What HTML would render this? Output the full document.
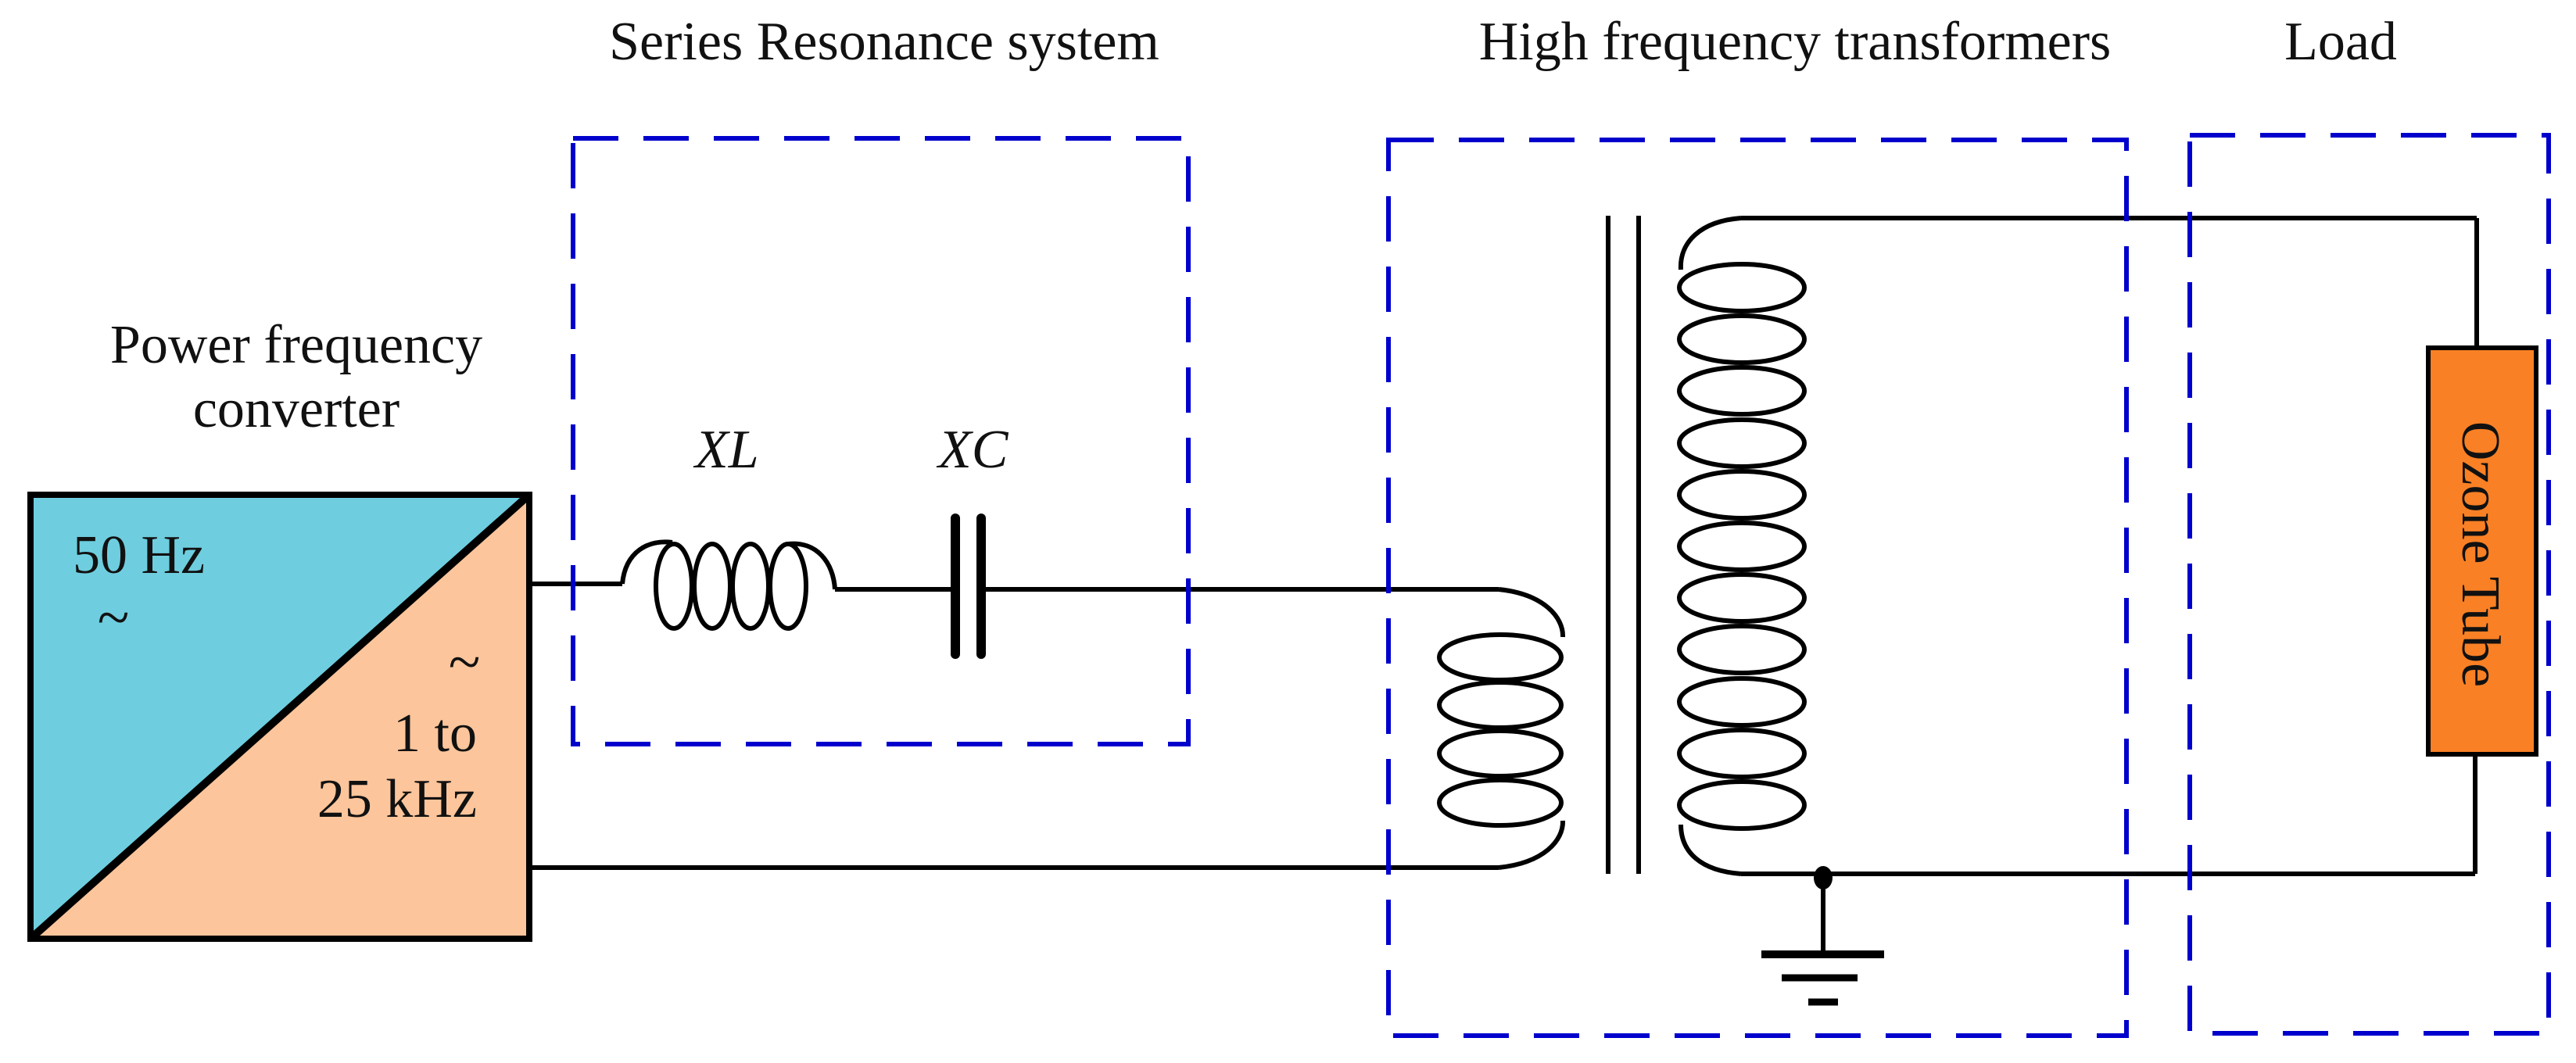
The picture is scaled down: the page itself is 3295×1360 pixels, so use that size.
<!DOCTYPE html>
<html><head><meta charset="utf-8"><style>
html,body{margin:0;padding:0;background:#fff;}
svg{display:block;}
text{font-family:"Liberation Serif",serif;fill:#111;}
</style></head><body>
<svg width="3295" height="1360" viewBox="0 0 3295 1360" xmlns="http://www.w3.org/2000/svg">
<text x="1131" y="76" font-size="70" text-anchor="middle">Series Resonance system</text>
<text x="2296" y="76" font-size="70" text-anchor="middle">High frequency transformers</text>
<text x="2994" y="76" font-size="70" text-anchor="middle">Load</text>
<text x="379" y="464" font-size="70" text-anchor="middle">Power frequency</text>
<text x="379" y="546" font-size="70" text-anchor="middle">converter</text>

<polygon points="39,633 677,633 39,1201" fill="#6ecedf"/>
<polygon points="677,633 677,1201 39,1201" fill="#fcc59b"/>
<rect x="39" y="633" width="638" height="568" fill="none" stroke="#000" stroke-width="8"/>
<line x1="39" y1="1201" x2="677" y2="633" stroke="#000" stroke-width="10"/>
<text x="93" y="733" font-size="70">50 Hz</text>
<text x="145" y="815" font-size="75" text-anchor="middle">~</text>
<text x="594" y="872" font-size="75" text-anchor="middle">~</text>
<text x="610" y="961" font-size="70" text-anchor="end">1 to</text>
<text x="610" y="1045" font-size="70" text-anchor="end">25 kHz</text>

<g stroke="#000" stroke-width="6" fill="none">
<line x1="677" y1="747" x2="796" y2="747"/>
<path d="M796,747 C800,705 830,690 860,694"/>
<ellipse cx="862" cy="750" rx="23" ry="54"/>
<ellipse cx="911" cy="750" rx="23" ry="54"/>
<ellipse cx="960" cy="750" rx="23" ry="54"/>
<ellipse cx="1008" cy="750" rx="23" ry="54"/>
<path d="M1008,696 C1045,692 1066,720 1068,754"/>
<line x1="1068" y1="754" x2="1222" y2="754"/>
<line x1="1255" y1="754" x2="1917" y2="754"/>
<line x1="677" y1="1110" x2="1917" y2="1110"/>
<path d="M1917,754 C1975,760 2000,790 1999,815"/>
<path d="M1917,1110 C1975,1104 2000,1075 1999,1050"/>
<ellipse cx="1919" cy="841" rx="78" ry="29"/>
<ellipse cx="1919" cy="902" rx="78" ry="29"/>
<ellipse cx="1919" cy="964" rx="78" ry="29"/>
<ellipse cx="1919" cy="1027" rx="78" ry="29"/>
<line x1="2227" y1="279" x2="3168" y2="279"/>
<line x1="3168" y1="279" x2="3168" y2="445"/>
<line x1="3166" y1="965" x2="3166" y2="1118"/>
<line x1="2227" y1="1118" x2="3166" y2="1118"/>
<path d="M2227,279 C2175,283 2148,310 2150,345"/>
<path d="M2227,1118 C2175,1114 2150,1090 2150,1055"/>
<ellipse cx="2228" cy="368" rx="80" ry="30"/>
<ellipse cx="2228" cy="434" rx="80" ry="30"/>
<ellipse cx="2228" cy="500" rx="80" ry="30"/>
<ellipse cx="2228" cy="567" rx="80" ry="30"/>
<ellipse cx="2228" cy="633" rx="80" ry="30"/>
<ellipse cx="2228" cy="699" rx="80" ry="30"/>
<ellipse cx="2228" cy="765" rx="80" ry="30"/>
<ellipse cx="2228" cy="831" rx="80" ry="30"/>
<ellipse cx="2228" cy="898" rx="80" ry="30"/>
<ellipse cx="2228" cy="964" rx="80" ry="30"/>
<ellipse cx="2228" cy="1030" rx="80" ry="30"/>
<line x1="2057" y1="276" x2="2057" y2="1118"/>
<line x1="2096" y1="276" x2="2096" y2="1118"/>
<line x1="2332" y1="1123" x2="2332" y2="1221"/>
</g>
<ellipse cx="2332" cy="1123" rx="12" ry="15" fill="#000"/>
<line x1="2253" y1="1221" x2="2410" y2="1221" stroke="#000" stroke-width="10"/>
<line x1="2279" y1="1251" x2="2376" y2="1251" stroke="#000" stroke-width="9"/>
<line x1="2313" y1="1282" x2="2351" y2="1282" stroke="#000" stroke-width="9"/>
<line x1="1222" y1="663" x2="1222" y2="837" stroke="#000" stroke-width="12" stroke-linecap="round"/>
<line x1="1255" y1="663" x2="1255" y2="837" stroke="#000" stroke-width="12" stroke-linecap="round"/>
<text x="889" y="598" font-size="70" font-style="italic">XL</text>
<text x="1200" y="598" font-size="70" font-style="italic">XC</text>

<rect x="3106" y="445" width="138" height="520" fill="#f98025" stroke="#000" stroke-width="6"/>
<text x="0" y="0" font-size="70" text-anchor="middle" transform="translate(3150,709) rotate(90)">Ozone Tube</text>

<g stroke="#0000cc" stroke-width="6" fill="none" stroke-dasharray="58,32">
<rect x="733" y="177" width="787" height="775"/>
<rect x="1776" y="179" width="944" height="1146"/>
<rect x="2801" y="173" width="459" height="1149"/>
</g>
</svg>
</body></html>
